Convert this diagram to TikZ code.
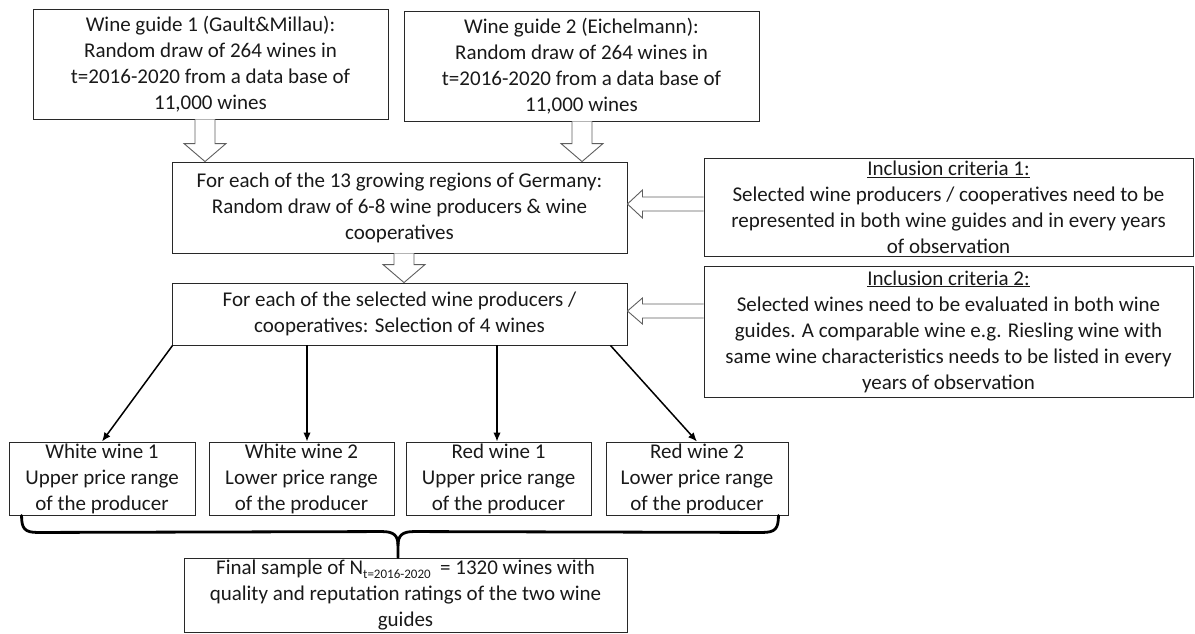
\documentclass[tikz,border=0pt]{standalone}
\usepackage{fontspec}
\setmainfont{Carlito}
\usetikzlibrary{arrows.meta,calc}
\definecolor{boxcol}{RGB}{40,40,40}
\definecolor{txtcol}{RGB}{25,25,25}
\definecolor{arrcol}{RGB}{95,95,95}
\begin{document}
\begin{tikzpicture}[x=1pt,y=-1pt,
  box/.style={draw=boxcol, line width=0.9pt, inner sep=0pt, align=center,
    font=\fontsize{21}{26}\selectfont, text=txtcol},
  hollow/.style={draw=arrcol, line width=0.9pt, fill=white, line join=miter},
  conn/.style={line width=1.5pt, -{Latex[length=9pt,width=7.5pt]}},
  bracepath/.style={line width=2.8pt, line join=round, line cap=round}]
\useasboundingbox (0,0) rectangle (1195,633);

% top boxes
\node[box, minimum width=355, minimum height=110] (b1) at (210.5,64)
  {Wine guide 1 (Gault\&Millau):\\Random draw of 264 wines in\\t=2016-2020 from a data base of\\11,000 wines};
\node[box, minimum width=355, minimum height=110] (b2) at (581.5,66)
  {Wine guide 2 (Eichelmann):\\Random draw of 264 wines in\\t=2016-2020 from a data base of\\11,000 wines};

% middle boxes
\node[box, minimum width=455, minimum height=91] (b3) at (399.5,207.5)
  {For each of the 13 growing regions of Germany:\\Random draw of 6-8 wine producers \& wine\\cooperatives};
\node[box, minimum width=455, minimum height=62] (b4) at (399.5,314)
  {For each of the selected wine producers /\\cooperatives: Selection of 4 wines};

% inclusion criteria
\node[box, minimum width=489, minimum height=98] (ic1) at (948.5,207)
  {\underline{Inclusion criteria 1:}\\Selected wine producers / cooperatives need to be\\represented in both wine guides and in every years\\of observation};
\node[box, minimum width=489, minimum height=131] (ic2) at (948.5,331.5)
  {\underline{Inclusion criteria 2:}\\Selected wines need to be evaluated in both wine\\guides. A comparable wine e.g. Riesling wine with\\same wine characteristics needs to be listed in every\\years of observation};

% wine boxes
\node[box, minimum width=186, minimum height=73] (wA) at (102,478.5)
  {White wine 1\\Upper price range\\of the producer};
\node[box, minimum width=185, minimum height=73] (wB) at (301.5,478.5)
  {White wine 2\\Lower price range\\of the producer};
\node[box, minimum width=185, minimum height=73] (wC) at (498.5,478.5)
  {Red wine 1\\Upper price range\\of the producer};
\node[box, minimum width=182, minimum height=73] (wD) at (697,478.5)
  {Red wine 2\\Lower price range\\of the producer};

% final box
\node[box, minimum width=443, minimum height=74] (fin) at (405.5,595)
  {Final sample of N\raisebox{-0.35ex}{\fontsize{13}{13}\selectfont t=2016-2020}\ \ = 1320 wines with\\quality and reputation ratings of the two wine\\guides};

% hollow down arrows
\draw[hollow] let \p1=($(b1.south)+(-5.5,0)$), \p2=(b3.north) in
  (\x1-10pt,\y1) -- (\x1-10pt,\y2+18pt) -- (\x1-21pt,\y2+18pt) -- (\x1,\y2)
  -- (\x1+21pt,\y2+18pt) -- (\x1+10pt,\y2+18pt) -- (\x1+10pt,\y1);
\draw[hollow] let \p1=($(b2.south)+(0.5,0)$), \p2=(b3.north) in
  (\x1-10pt,\y1) -- (\x1-10pt,\y2+18pt) -- (\x1-21pt,\y2+18pt) -- (\x1,\y2)
  -- (\x1+21pt,\y2+18pt) -- (\x1+10pt,\y2+18pt) -- (\x1+10pt,\y1);
\draw[hollow] let \p1=($(b3.south)+(4.5,0)$), \p2=(b4.north) in
  (\x1-10pt,\y1) -- (\x1-10pt,\y2+18pt) -- (\x1-21pt,\y2+18pt) -- (\x1,\y2)
  -- (\x1+21pt,\y2+18pt) -- (\x1+10pt,\y2+18pt) -- (\x1+10pt,\y1);

% hollow left arrows
\draw[hollow] let \p1=(ic1.west), \p2=($(b3.east)+(0,-3.5)$) in
  (\x1,\y2+7pt) -- (\x2+15pt,\y2+7pt) -- (\x2+15pt,\y2+14pt) -- (\x2,\y2)
  -- (\x2+15pt,\y2-14pt) -- (\x2+15pt,\y2-7pt) -- (\x1,\y2-7pt);
\draw[hollow] let \p1=(ic2.west), \p2=($(b4.east)+(0,-3)$) in
  (\x1,\y2+7pt) -- (\x2+15pt,\y2+7pt) -- (\x2+15pt,\y2+13pt) -- (\x2,\y2)
  -- (\x2+15pt,\y2-13pt) -- (\x2+15pt,\y2-7pt) -- (\x1,\y2-7pt);

% connectors to wine boxes
\draw[conn] ($(b4.south west)+(1,0)$) -- (wA.north);
\draw[conn] ($(b4.south -| wB.north)+(5.5,0)$) -- ($(wB.north)+(5.5,0)$);
\draw[conn] ($(b4.south -| wC.north)+(-1.5,0)$) -- ($(wC.north)+(-1.5,0)$);
\draw[conn] ($(b4.south east)+(-17,0)$) -- (wD.north);

% brace
\coordinate (brL) at ($(wA.south west)+(13,0)$);
\coordinate (brR) at ($(wD.south east)+(-10,0)$);
\coordinate (brTip) at ($(fin.north)+(-7.5,0)$);
\draw[bracepath] (brL) .. controls ($(brL)+(0,13)$) and ($(brL)+(3,17)$) .. ($(brL)+(16,17)$)
  -- ($(brTip)+(-16,-26)$) .. controls ($(brTip)+(-4,-26)$) and ($(brTip)+(0,-22)$) .. ($(brTip)+(0,-12)$)
  -- (brTip);
\draw[bracepath] (brR) .. controls ($(brR)+(0,13)$) and ($(brR)+(-3,17)$) .. ($(brR)+(-16,17)$)
  -- ($(brTip)+(16,-26)$) .. controls ($(brTip)+(4,-26)$) and ($(brTip)+(0,-22)$) .. ($(brTip)+(0,-12)$);
\end{tikzpicture}
\end{document}
